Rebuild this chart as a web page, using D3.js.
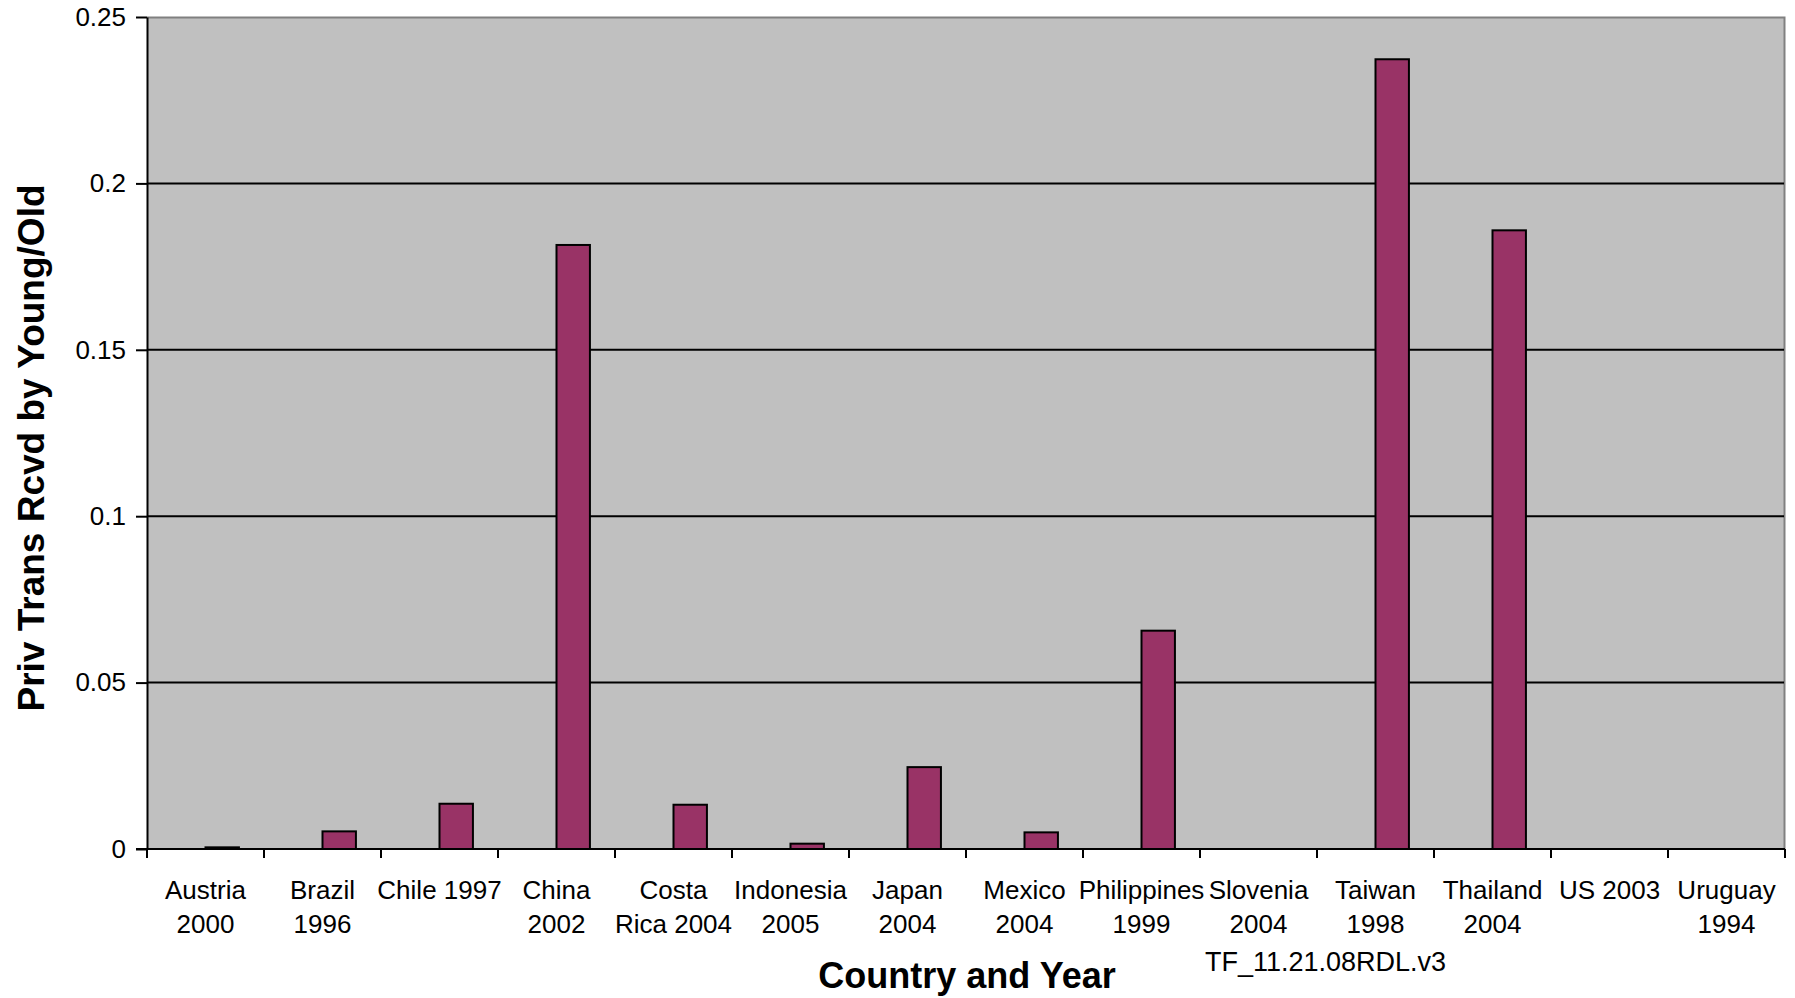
<!DOCTYPE html>
<html>
<head>
<meta charset="utf-8">
<script src="https://cdn.jsdelivr.net/npm/d3@7"></script>
<style>
  html, body { margin: 0; padding: 0; background: #ffffff; }
  svg { display: block; font-family: Arial, "Liberation Sans", sans-serif; }
</style>
</head>
<body>
<svg id="chart" width="1795" height="998"></svg>
<script>
// ---- data ----
const categories = [
  ["Austria", "2000"], ["Brazil", "1996"], ["Chile 1997"], ["China", "2002"],
  ["Costa", "Rica 2004"], ["Indonesia", "2005"], ["Japan", "2004"], ["Mexico", "2004"],
  ["Philippines", "1999"], ["Slovenia", "2004"], ["Taiwan", "1998"], ["Thailand", "2004"],
  ["US 2003"], ["Uruguay", "1994"]
];
const values = [0.0005, 0.0053, 0.0136, 0.1815, 0.0133, 0.0016, 0.0246, 0.005,
                0.0656, 0, 0.2373, 0.1859, 0, 0];
const yTicks = [0, 0.05, 0.1, 0.15, 0.2, 0.25];
const yTickLabels = ["0", "0.05", "0.1", "0.15", "0.2", "0.25"];
const seriesSlots = ["empty", "privTrans"];  // Excel clustered slot: bar sits in 2nd slot
const yTitle = "Priv Trans Rcvd by Young/Old";
const xTitle = "Country and Year";
const note = "TF_11.21.08RDL.v3";

// ---- layout ----
const svg = d3.select("#chart");
const plot = { left: 147, right: 1785, top: 17, bottom: 849 };
const keys = categories.map((c, i) => i);

const x = d3.scaleBand().domain(keys).range([plot.left, plot.right]).padding(0);
const xs = d3.scaleBand().domain(seriesSlots).range([0, x.bandwidth()])
  .paddingInner(0).paddingOuter(0.75);
const y = d3.scaleLinear().domain([0, 0.25]).range([plot.bottom, plot.top]);

// plot background
svg.append("rect")
  .attr("x", plot.left).attr("y", plot.top)
  .attr("width", plot.right - plot.left).attr("height", plot.bottom - plot.top)
  .attr("fill", "#c0c0c0");

// top & right border (gray)
svg.append("path")
  .attr("d", `M${plot.left},${plot.top + 0.5}H${plot.right - 0.5}V${plot.bottom}`)
  .attr("fill", "none").attr("stroke", "#808080").attr("stroke-width", 2);

// gridlines
svg.append("g").selectAll("line")
  .data(yTicks.filter(t => t > 0 && t < 0.25))
  .join("line")
  .attr("x1", plot.left).attr("x2", plot.right - 1)
  .attr("y1", d => y(d)).attr("y2", d => y(d))
  .attr("stroke", "#000").attr("stroke-width", 2);

// bars
svg.append("g").selectAll("rect")
  .data(values.map((v, i) => ({ i, v })))
  .join("rect")
  .attr("x", d => x(d.i) + xs("privTrans"))
  .attr("width", xs.bandwidth())
  .attr("y", d => y(d.v))
  .attr("height", d => y(0) - y(d.v))
  .attr("fill", "#993366")
  .attr("stroke", "#000").attr("stroke-width", 2);

// y axis
const yAxis = d3.axisLeft(y).tickValues(yTicks)
  .tickFormat((d, i) => yTickLabels[i]).tickSizeInner(11).tickSizeOuter(0).tickPadding(10);
const gy = svg.append("g").attr("transform", `translate(${plot.left},0)`).call(yAxis);
gy.select(".domain").attr("stroke", "#000").attr("stroke-width", 2);
gy.selectAll(".tick line").attr("stroke", "#000").attr("stroke-width", 2);
gy.selectAll(".tick text").attr("font-size", 26).attr("fill", "#000")
  .attr("font-family", "Arial, 'Liberation Sans', sans-serif");

// x axis line + ticks at band boundaries
const boundaries = keys.map(k => x(k)).concat([plot.right]);
svg.append("line")
  .attr("x1", plot.left - 11).attr("x2", plot.right)
  .attr("y1", plot.bottom).attr("y2", plot.bottom)
  .attr("stroke", "#000").attr("stroke-width", 2);
svg.append("g").selectAll("line")
  .data(boundaries)
  .join("line")
  .attr("x1", d => d).attr("x2", d => d)
  .attr("y1", plot.bottom).attr("y2", plot.bottom + 9)
  .attr("stroke", "#000").attr("stroke-width", 2);

// category labels
const lab = svg.append("g").selectAll("text")
  .data(categories.map((c, i) => ({ c, i })))
  .join("text")
  .attr("x", d => x(d.i) + x.bandwidth() / 2)
  .attr("y", 899)
  .attr("text-anchor", "middle")
  .attr("font-size", 26).attr("fill", "#000");
lab.selectAll("tspan")
  .data(d => d.c.map(line => ({ line, cx: x(d.i) + x.bandwidth() / 2 })))
  .join("tspan")
  .attr("x", d => d.cx)
  .attr("dy", (d, j) => j === 0 ? 0 : 34)
  .text(d => d.line);

// axis titles
svg.append("text")
  .attr("x", 967).attr("y", 988)
  .attr("text-anchor", "middle")
  .attr("font-size", 36).attr("font-weight", "bold").attr("fill", "#000")
  .text(xTitle);

svg.append("text")
  .attr("transform", "translate(44,448) rotate(-90)")
  .attr("text-anchor", "middle")
  .attr("font-size", 37).attr("font-weight", "bold").attr("fill", "#000")
  .text(yTitle);

// note
svg.append("text")
  .attr("x", 1205).attr("y", 971)
  .attr("font-size", 27).attr("fill", "#000")
  .text(note);
</script>
</body>
</html>
